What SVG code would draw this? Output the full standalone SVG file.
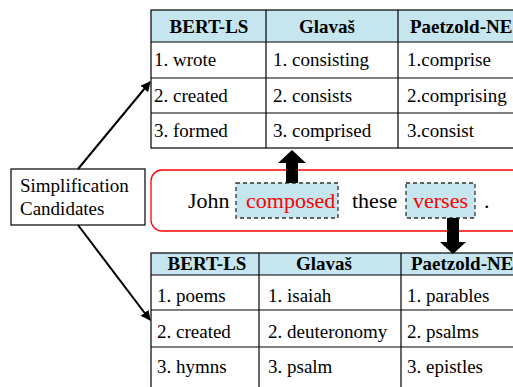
<svg xmlns="http://www.w3.org/2000/svg" width="513" height="387" viewBox="0 0 513 387">
<defs>
<style>
.cell{font-size:19px}
.hdr{font-size:19px;font-weight:bold}
.sent{font-size:22px}
.red{fill:#ff0000}
.grid{fill:none;stroke:#000;stroke-width:1.2}
.head{fill:#c6e6ef}
.word{fill:#c6e6ef;stroke:#333;stroke-width:1.3;stroke-dasharray:4 3}
.conn{stroke:#000;stroke-width:2;fill:none}
</style>
<marker id="ah" viewBox="0 0 10 10" refX="9" refY="5" markerWidth="5" markerHeight="5" orient="auto" markerUnits="strokeWidth">
<path d="M0,0 L10,5 L0,10 z" fill="#000"/>
</marker>
</defs>
<rect width="513" height="387" fill="#fff"/>
<g font-family="'Liberation Serif', 'Times New Roman', 'DejaVu Serif', serif">
<g id="top-table">
<rect class="head" x="151" y="10" width="370" height="32"/>
<rect class="grid" x="151" y="10" width="370" height="138"/>
<line class="grid" x1="151" y1="42" x2="521" y2="42"/>
<line class="grid" x1="151" y1="78" x2="521" y2="78"/>
<line class="grid" x1="151" y1="113" x2="521" y2="113"/>
<line class="grid" x1="266" y1="10" x2="266" y2="148"/>
<line class="grid" x1="398" y1="10" x2="398" y2="148"/>
<text class="hdr" x="209" y="33" text-anchor="middle">BERT-LS</text>
<text class="hdr" x="327" y="33" text-anchor="middle">Glavaš</text>
<text class="hdr" x="410" y="33">Paetzold-NE</text>
<text class="cell" x="154" y="66">1. wrote</text>
<text class="cell" x="154" y="102">2. created</text>
<text class="cell" x="154" y="137">3. formed</text>
<text class="cell" x="273" y="66">1. consisting</text>
<text class="cell" x="273" y="102">2. consists</text>
<text class="cell" x="273" y="137">3. comprised</text>
<text class="cell" x="407" y="66">1.comprise</text>
<text class="cell" x="407" y="102">2.comprising</text>
<text class="cell" x="407" y="137">3.consist</text>
</g>

<g id="sentence">
<rect x="151" y="170" width="380" height="61" rx="11" fill="none" stroke="#ff0000" stroke-width="1.3"/>
<rect class="word" x="236" y="183" width="102" height="35"/>
<rect class="word" x="406" y="183" width="69" height="35"/>
<text class="sent" x="188" y="208">John</text>
<text class="sent red" x="246" y="208">composed</text>
<text class="sent" x="352" y="208">these</text>
<text class="sent red" x="413" y="208">verses</text>
<text class="sent" x="484" y="208">.</text>
</g>

<g id="bottom-table">
<rect class="head" x="151" y="253" width="370" height="22"/>
<rect class="grid" x="151" y="253" width="370" height="145"/>
<line class="grid" x1="151" y1="275" x2="521" y2="275"/>
<line class="grid" x1="151" y1="310" x2="521" y2="310"/>
<line class="grid" x1="151" y1="347" x2="521" y2="347"/>
<line class="grid" x1="259" y1="253" x2="259" y2="398"/>
<line class="grid" x1="401" y1="253" x2="401" y2="398"/>
<text class="hdr" x="207" y="270" text-anchor="middle">BERT-LS</text>
<text class="hdr" x="324" y="270" text-anchor="middle">Glavaš</text>
<text class="hdr" x="411" y="270">Paetzold-NE</text>
<text class="cell" x="157" y="302">1. poems</text>
<text class="cell" x="157" y="338">2. created</text>
<text class="cell" x="157" y="373">3. hymns</text>
<text class="cell" x="268" y="302">1. isaiah</text>
<text class="cell" x="268" y="338">2. deuteronomy</text>
<text class="cell" x="268" y="373">3. psalm</text>
<text class="cell" x="407" y="302">1. parables</text>
<text class="cell" x="407" y="338">2. psalms</text>
<text class="cell" x="407" y="373">3. epistles</text>
</g>

<g id="candidates">
<rect x="11" y="169" width="134" height="56" fill="#fff" stroke="#000" stroke-width="1.2"/>
<text class="cell" x="20" y="192">Simplification</text>
<text class="cell" x="20" y="215">Candidates</text>
</g>
</g>
<g id="connectors">
<line class="conn" x1="78" y1="169" x2="150" y2="82" marker-end="url(#ah)"/>
<line class="conn" x1="78" y1="225" x2="150" y2="320" marker-end="url(#ah)"/>
<path d="M286,183 L286,163 L278,163 L292,150 L306,163 L298,163 L298,183 z" fill="#000"/>
<path d="M447,218 L447,242 L440,242 L453,254 L466,242 L459,242 L459,218 z" fill="#000"/>
</g>
</svg>
